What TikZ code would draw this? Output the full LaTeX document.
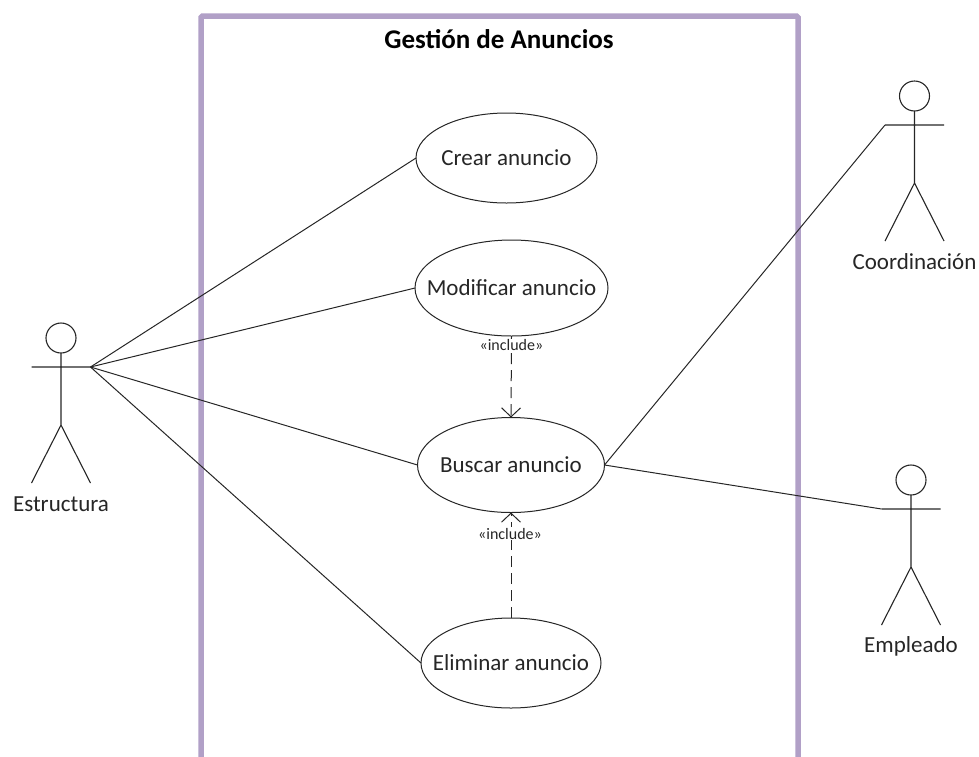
\documentclass[tikz,border=0pt]{standalone}
\usepackage{fontspec}
\setmainfont{Carlito}
\usetikzlibrary{arrows.meta,shapes.geometric}
\definecolor{framepurple}{HTML}{B1A0C7}
\definecolor{textgrey}{HTML}{262626}
\tikzset{
  usecase/.style={draw=black!85, ellipse, fill=white, inner sep=-30pt, outer sep=0pt, line width=1pt, text=textgrey, font=\fontsize{23}{27}\selectfont},
  assoc/.style={line width=1pt, black!85},
  include/.style={line width=1pt, black!85, dash pattern=on 11pt off 6pt, -{Straight Barb[length=9pt,width=19pt]}},
  inclabel/.style={fill=white, inner sep=0.5pt, text=textgrey, font=\fontsize{16}{18}\selectfont},
  actor/.pic={
    \draw[line width=1.1pt, black!85]
      (0,-29) circle (15)
      (0,-14) -- (0,58) coordinate (-hip)
      (-29.5,0) coordinate (-left) -- (29.5,0) coordinate (-right)
      (-29.5,116) -- (-hip) -- (29.5,116);
    \node[text=textgrey, font=\fontsize{23}{27}\selectfont] (-label) at (0,137) {#1};
  }
}
\begin{document}
\begin{tikzpicture}[x=1pt,y=-1pt]
  \useasboundingbox (0,0) rectangle (979,756);
  % system frame, open at the bottom
  \draw[framepurple, line width=5.5pt, rounded corners=1.5pt]
    (201,775) -- (201,16) -- (798,16) -- (798,775);
  \node[font=\fontsize{27}{32}\selectfont\bfseries] (title) at (499,39) {Gestión de Anuncios};

  % use cases
  \node[usecase, minimum width=181pt, minimum height=90pt] (crear) at (506.5,158) {Crear anuncio};
  \node[usecase, minimum width=193pt, minimum height=96pt] (modificar) at (511.5,288) {Modificar anuncio};
  \node[usecase, minimum width=187pt, minimum height=95pt] (buscar) at (511,465) {Buscar anuncio};
  \node[usecase, minimum width=180pt, minimum height=90pt] (eliminar) at (511,663) {Eliminar anuncio};

  % actors
  \pic (estructura) at (61,367) {actor=Estructura};
  \pic (coordinacion) at (914.5,125) {actor=Coordinación};
  \pic (empleado) at (911,509) {actor=Empleado};

  % associations
  \draw[assoc] (estructura-right) -- (crear.west);
  \draw[assoc] (estructura-right) -- (modificar.west);
  \draw[assoc] (estructura-right) -- (buscar.west);
  \draw[assoc] (estructura-right) -- (eliminar.west);
  \draw[assoc] (buscar.east) -- (coordinacion-left);
  \draw[assoc] (buscar.east) -- (empleado-left);

  % includes
  \draw[include] (modificar.south) -- (buscar.north)
    node[inclabel, pos=0.11] (inc1) {«include»};
  \draw[include] (eliminar.north) -- (buscar.south)
    node[inclabel, pos=0.80, xshift=-1pt] (inc2) {«include»};
\end{tikzpicture}
\end{document}
